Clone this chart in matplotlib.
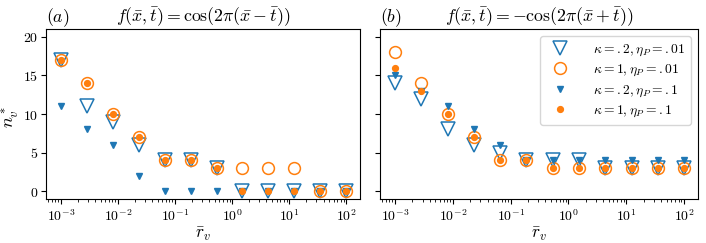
import numpy as np
import matplotlib
matplotlib.use("Agg")
import matplotlib.pyplot as plt
from matplotlib.ticker import FuncFormatter, FixedLocator

plt.rcParams['mathtext.fontset'] = 'cm'
plt.rcParams['font.family'] = ['DejaVu Serif']

r_v = [1e-3, 2.85e-3, 8.11e-3, 2.31e-2, 6.58e-2, 0.187, 0.534, 1.52, 4.33, 12.3, 35.1, 100.0]

# panel (a)
a_k02_e001 = [17, 11, 9, 6, 4, 4, 3, 0, 0, 0, 0, 0]
a_k1_e001 = [17, 14, 10, 7, 4, 4, 3, 3, 3, 3, 0, 0]
a_k02_e01 = [11, 8, 6, 2, 0, 0, 0, 0, 0, 0, 0, 0]
a_k1_e01 = [17, 14, 10, 7, 4, 4, 3, 0, 0, 0, 0, 0]

# panel (b)
b_k02_e001 = [14, 12, 8, 6, 5, 4, 4, 4, 3, 3, 3, 3]
b_k1_e001 = [18, 14, 10, 7, 4, 4, 3, 3, 3, 3, 3, 3]
b_k02_e01 = [15, 13, 11, 8, 6, 4, 4, 4, 4, 4, 4, 4]
b_k1_e01 = [16, 13, 10, 7, 4, 4, 3, 3, 3, 3, 3, 3]

labels = [r'$\kappa=.2, \eta_P=.01$', r'$\kappa=1, \eta_P=.01$',
          r'$\kappa=.2, \eta_P=.1$', r'$\kappa=1, \eta_P=.1$']
titles = [r'$f(\bar{x},\bar{t})=\cos(2\pi(\bar{x}-\bar{t}))$',
          r'$f(\bar{x},\bar{t})=-\cos(2\pi(\bar{x}+\bar{t}))$']
panel_tags = [r'$(a)$', r'$(b)$']

blue = '#1f77b4'
orange = '#ff7f0e'

fig = plt.figure(figsize=(7.06, 2.43), dpi=100)
ax1 = fig.add_axes([46/706, 44/243, 314/706, 170/243])
ax2 = fig.add_axes([380/706, 44/243, 318/706, 170/243], sharey=ax1)

datasets = [(a_k02_e001, a_k1_e001, a_k02_e01, a_k1_e01),
            (b_k02_e001, b_k1_e001, b_k02_e01, b_k1_e01)]

for i, (ax, d) in enumerate(zip([ax1, ax2], datasets)):
    ax.plot(r_v, d[0], linestyle='none', marker='v', markersize=9.5,
            markerfacecolor='none', markeredgecolor=blue, markeredgewidth=1.1, label=labels[0])
    ax.plot(r_v, d[1], linestyle='none', marker='o', markersize=8.5,
            markerfacecolor='none', markeredgecolor=orange, markeredgewidth=1.1, label=labels[1])
    ax.plot(r_v, d[2], linestyle='none', marker='v', markersize=4.5,
            color=blue, label=labels[2])
    ax.plot(r_v, d[3], linestyle='none', marker='o', markersize=4.2,
            color=orange, label=labels[3])
    ax.set_xscale('log')
    ax.set_xlim(10**-3.26, 10**2.24)
    ax.set_ylim(-1, 21)
    ax.xaxis.set_major_locator(FixedLocator([1e-3, 1e-2, 1e-1, 1, 10, 100]))
    ax.xaxis.set_major_formatter(FuncFormatter(lambda v, p: r'$10^{%d}$' % int(round(np.log10(v)))))
    ax.set_xlabel(r'$\bar{r}_v$', fontsize=12.5, labelpad=1)
    ax.set_title(titles[i], fontsize=12.8, pad=3)
    ax.set_title(panel_tags[i], fontsize=12.8, loc='left', pad=3)
    ax.tick_params(axis='both', which='major', labelsize=10, length=3.5, pad=3)
    ax.tick_params(axis='y', which='major', pad=2)
    ax.tick_params(axis='both', which='minor', length=2)

ax1.set_yticks([0, 5, 10, 15, 20])
ax1.yaxis.set_major_formatter(FuncFormatter(lambda v, p: r'$%d$' % int(v)))
ax1.set_ylabel(r'$n_v^*$', fontsize=13)
ax1.yaxis.set_label_coords(-0.08, 0.48)
plt.setp(ax2.get_yticklabels(), visible=False)

ax2.legend(loc='upper right', fontsize=9.8, handletextpad=1.4, labelspacing=0.3,
           borderpad=0.45, framealpha=0.8)

fig.savefig('out.png', dpi=100)
